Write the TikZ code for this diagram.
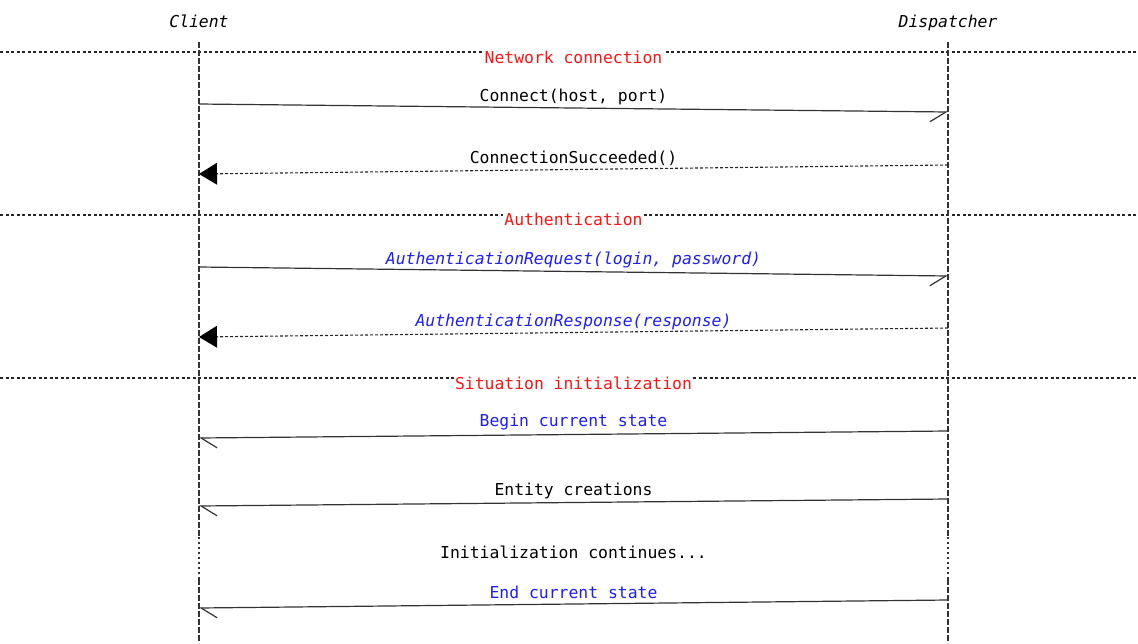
\documentclass[tikz,border=0pt]{standalone}
\usepackage{fontspec}
\setmonofont{DejaVu Sans Mono}
\usetikzlibrary{arrows.meta}
\definecolor{secred}{RGB}{255,20,20}
\definecolor{msgblue}{RGB}{30,30,255}
\tikzset{
  txt/.style={font=\ttfamily\fontsize{16.4}{18}\selectfont, inner sep=0pt, anchor=center},
  actor/.style={txt, font=\ttfamily\itshape\fontsize{16.4}{18}\selectfont, anchor=base},
  seclabel/.style={txt, text=secred, fill=white, inner xsep=1pt, inner ysep=2pt},
  msglabel/.style={txt},
  lifeline/.style={draw=black!80, line width=1.2pt, dash pattern=on 6pt off 2pt},
  lifedots/.style={draw=black!80, line width=1.3pt, dash pattern=on 1.5pt off 3.5pt},
  sepline/.style={draw=black!85, line width=1.1pt, dash pattern=on 3pt off 2.5pt},
  callmsg/.style={draw=black!80, line width=1.2pt},
  callR/.style={callmsg, -{Straight Barb[harpoon,swap,length=16pt,width=20pt,line width=1.2pt]}},
  callL/.style={callmsg, -{Straight Barb[harpoon,length=16pt,width=20pt,line width=1.2pt]}},
  retL/.style={draw=black!85, line width=1.1pt, dash pattern=on 3pt off 2pt, -{Triangle[length=18pt,width=22pt,fill=black,line width=0pt]}},
}
\begin{document}
\begin{tikzpicture}[x=1pt,y=-1pt]
\useasboundingbox[fill=white] (0,0) rectangle (1138,643);

% actors
\node[actor] (client) at (199,27) {Client};
\node[actor] (disp) at (948,27) {Dispatcher};

% lifeline coordinates
\coordinate (cTop) at (199,42);
\coordinate (cD1) at (199,537);
\coordinate (cD2) at (199,579);
\coordinate (cBot) at (199,643);
\coordinate (dTop) at (948,42);
\coordinate (dD1) at (948,537);
\coordinate (dD2) at (948,579);
\coordinate (dBot) at (948,643);

% separators
\coordinate (s1L) at (0,52);   \coordinate (s1R) at (1138,52);
\coordinate (s2L) at (0,215);  \coordinate (s2R) at (1138,215);
\coordinate (s3L) at (0,378);  \coordinate (s3R) at (1138,378);
\draw[sepline] (s1L) -- (s1R);
\draw[sepline] (s2L) -- (s2R);
\draw[sepline] (s3L) -- (s3R);

% lifelines
\draw[lifeline] (cTop) -- (cD1);
\draw[lifedots] (cD1) -- (cD2);
\draw[lifeline] (cD2) -- (cBot);
\draw[lifeline] (dTop) -- (dD1);
\draw[lifedots] (dD1) -- (dD2);
\draw[lifeline] (dD2) -- (dBot);

% section labels
\node[seclabel] (sec1) at (573.5,57) {Network connection};
\node[seclabel] (sec2) at (573.5,219) {Authentication};
\node[seclabel] (sec3) at (573.5,383) {Situation initialization};

% message endpoints
\coordinate (m1a) at (199,104); \coordinate (m1b) at (948,112);
\coordinate (m2a) at (948,165); \coordinate (m2b) at (199,174);
\coordinate (m3a) at (199,267); \coordinate (m3b) at (948,276);
\coordinate (m4a) at (948,328); \coordinate (m4b) at (199,337);
\coordinate (m5a) at (948,431); \coordinate (m5b) at (199,438);
\coordinate (m6a) at (948,499); \coordinate (m6b) at (199,506);
\coordinate (m7a) at (948,600); \coordinate (m7b) at (199,608);

\draw[callR] (m1a) -- (m1b);
\draw[retL] (m2a) -- (m2b);
\draw[callR] (m3a) -- (m3b);
\draw[retL] (m4a) -- (m4b);
\draw[callL] (m5a) -- (m5b);
\draw[callL] (m6a) -- (m6b);
\draw[callL] (m7a) -- (m7b);

% message labels
\node[msglabel] (l1) at (573.5,97) {Connect(host, port)};
\node[msglabel] (l2) at (573.5,158) {ConnectionSucceeded()};
\node[msglabel, text=msgblue, font=\ttfamily\itshape\fontsize{16.4}{18}\selectfont] (l3) at (573.5,260) {AuthenticationRequest(login, password)};
\node[msglabel, text=msgblue, font=\ttfamily\itshape\fontsize{16.4}{18}\selectfont] (l4) at (573.5,322) {AuthenticationResponse(response)};
\node[msglabel, text=msgblue] (l5) at (573.5,422) {Begin current state};
\node[msglabel] (l6) at (573.5,491) {Entity creations};
\node[msglabel] (l7) at (573.5,552) {Initialization continues...};
\node[msglabel, text=msgblue] (l8) at (573.5,592) {End current state};
\end{tikzpicture}
\end{document}
